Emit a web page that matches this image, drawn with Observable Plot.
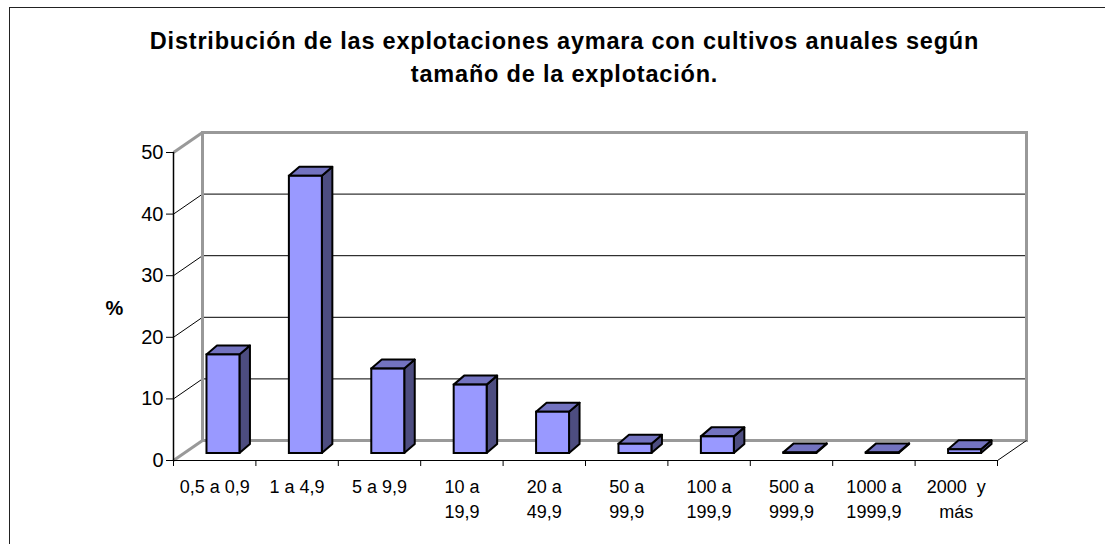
<!DOCTYPE html>
<html><head><meta charset="utf-8">
<script src="https://cdn.jsdelivr.net/npm/d3@7"></script>
<script src="https://cdn.jsdelivr.net/npm/@observablehq/plot@0.6"></script>
<style>
html,body{margin:0;padding:0;background:#fff;overflow:hidden;width:1105px;height:544px;}
#chart{position:absolute;left:0;top:0;}
#frame{position:absolute;left:9px;top:7px;width:1200px;height:600px;border:1.5px solid #222;}
#title{position:absolute;left:0;top:0;width:1129px;text-align:center;font-family:"Liberation Sans",Arial,sans-serif;font-weight:bold;font-size:23.5px;letter-spacing:0.8px;line-height:33px;padding-top:25px;color:#000;}
</style></head><body>
<div id="chart"></div>
<div id="frame"></div>
<div id="title">Distribución de las explotaciones aymara con cultivos anuales según<br>tamaño de la explotación.</div>
<script>
const categories = ["0,5 a 0,9", "1 a 4,9", "5 a 9,9", "10 a\n19,9", "20 a\n49,9", "50 a\n99,9", "100 a\n199,9", "500 a\n999,9", "1000 a\n1999,9", "2000\u00a0 y\nmás"];
const values = [16, 45, 13.7, 11.1, 6.7, 1.5, 2.7, 0.1, 0.1, 0.6];
const yTicks = [0, 10, 20, 30, 40, 50];
const xBoundaries = [0, 1, 2, 3, 4, 5, 6, 7, 8, 9, 10];

// layout (pixels)
const W = 1105, H = 544, mL = 173, mR = 108, mT = 152, mB = 84;
const pxX = (W - mL - mR) / categories.length;   // pixels per category
const pxY = (H - mT - mB) / 50;                 // pixels per percent
const WALL_DX = 29, WALL_DY = -20;              // back wall depth offset
const BAR_DX = 10, BAR_DY = -7;                 // bar front-face depth offset
const SIDE_DX = 10.5, SIDE_DY = 9;              // bar depth
const wx = WALL_DX / pxX, wy = -WALL_DY / pxY;
const sx = SIDE_DX / pxX, sy = SIDE_DY / pxY;
const b0 = 0.285, b1 = 0.685;                    // bar position within band

const bars = categories.map((c, i) => ({i, c, v: values[i]}));
const sidePts = bars.flatMap(d => [
  {i: d.i, x: d.i + b1, y1: 0, y2: d.v},
  {i: d.i, x: d.i + b1 + sx, y1: sy, y2: d.v + sy}
]);
const topPts = bars.flatMap(d => [
  {i: d.i, y: d.v, x1: d.i + b0, x2: d.i + b1},
  {i: d.i, y: d.v + sy, x1: d.i + b0 + sx, x2: d.i + b1 + sx}
]);
const innerTicks = yTicks.filter(t => t > 0 && t < 50);
const edgeTicks = [0, 50];

const plot = Plot.plot({
  width: W, height: H,
  marginLeft: mL, marginRight: mR, marginTop: mT, marginBottom: mB,
  x: {type: "linear", domain: [0, categories.length]},
  y: {type: "linear", domain: [0, 50]},
  style: {fontFamily: "'Liberation Sans', Arial, sans-serif", background: "transparent", color: "#000"},
  marks: [
    // back wall gridlines
    Plot.ruleY(innerTicks, {dx: WALL_DX, dy: WALL_DY, stroke: "#000", strokeWidth: 1}),
    // side wall diagonals
    Plot.link(innerTicks, {x1: 0, y1: d => d, x2: wx, y2: d => d + wy, stroke: "#000", strokeWidth: 1}),
    Plot.link(edgeTicks, {x1: 0, y1: d => d, x2: wx, y2: d => d + wy, stroke: "#999", strokeWidth: 3}),
    // back wall frame
    Plot.frame({dx: WALL_DX, dy: WALL_DY, stroke: "#999", strokeWidth: 3}),
    // right floor diagonal
    Plot.link([categories.length], {x1: d => d, y1: 0, x2: d => d + wx, y2: wy, stroke: "#000", strokeWidth: 1}),
    // front axes lines
    Plot.ruleY([0], {stroke: "#000", strokeWidth: 1.2}),
    Plot.ruleX([0], {stroke: "#000", strokeWidth: 1.5}),
    // bars
    Plot.areaY(sidePts, {x: "x", y1: "y1", y2: "y2", z: "i", dx: BAR_DX, dy: BAR_DY, fill: "#4D4D80", stroke: "#000", strokeWidth: 2, strokeLinejoin: "round", curve: "linear"}),
    Plot.areaX(topPts, {y: "y", x1: "x1", x2: "x2", z: "i", dx: BAR_DX, dy: BAR_DY, fill: "#7373C0", stroke: "#000", strokeWidth: 2, strokeLinejoin: "round", curve: "linear"}),
    Plot.rectY(bars, {x1: d => d.i + b0, x2: d => d.i + b1, y1: 0, y2: "v", dx: BAR_DX, dy: BAR_DY, fill: "#9999FF", stroke: "#000", strokeWidth: 2}),
    // axes
    Plot.axisY({ticks: yTicks, tickSize: 7, tickPadding: 3, fontSize: 20, label: null}),
    Plot.axisX({ticks: xBoundaries, tickSize: 6, tickFormat: () => "", label: null}),
    Plot.text(bars, {x: d => d.i + 0.5, y: 0, text: "c", lineAnchor: "top", dy: 15, fontSize: 18, lineHeight: 1.39, fill: "#000"}),
    Plot.text(["%"], {frameAnchor: "left", text: d => d, dx: -59, dy: 2, fontSize: 20, fontWeight: "bold", textAnchor: "middle", fill: "#000"})
  ]
});
document.getElementById("chart").appendChild(plot);
</script>
</body></html>
